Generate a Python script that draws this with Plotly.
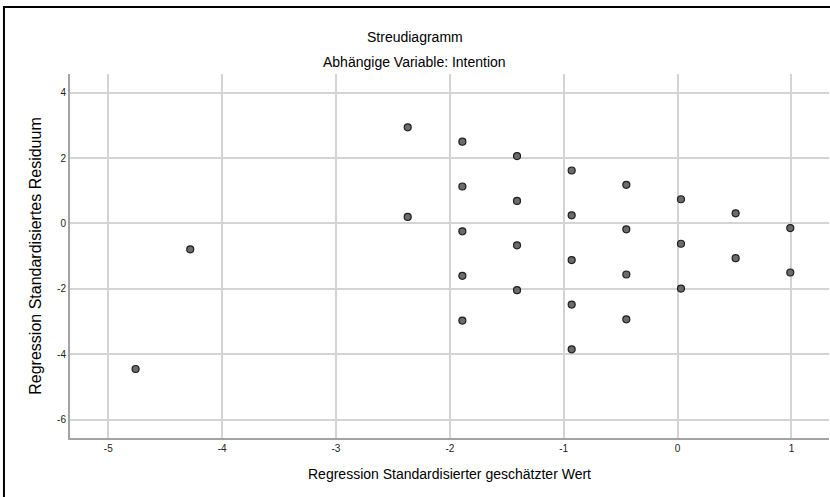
import plotly.graph_objects as go

# Data (standardized predicted value vs standardized residual)
pred_x = [-4.76, -4.28, -2.37, -2.37, -1.89, -1.89, -1.89, -1.89, -1.89,
          -1.41, -1.41, -1.41, -1.41, -0.93, -0.93, -0.93, -0.93, -0.93,
          -0.45, -0.45, -0.45, -0.45, 0.03, 0.03, 0.03, 0.51, 0.51, 0.99, 0.99]
resid_y = [-4.45, -0.79, 2.94, 0.20, 2.50, 1.13, -0.24, -1.60, -2.97,
           2.06, 0.69, -0.67, -2.04, 1.62, 0.25, -1.12, -2.48, -3.85,
           1.18, -0.18, -1.56, -2.93, 0.74, -0.62, -1.99, 0.31, -1.06, -0.14, -1.50]
x_ticks = [-5, -4, -3, -2, -1, 0, 1]
x_tick_labels = ["-5", "-4", "-3", "-2", "-1", "0", "1"]
y_ticks = [4, 2, 0, -2, -4, -6]
y_tick_labels = ["4", "2", "0", "-2", "-4", "-6"]

title_text = "Streudiagramm"
subtitle_text = "Abhängige Variable: Intention"
x_title = "Regression Standardisierter geschätzter Wert"
y_title = "Regression Standardisiertes Residuum"

FONT = "Arial, 'Liberation Sans', sans-serif"

fig = go.Figure()
fig.add_trace(go.Scatter(
    x=pred_x, y=resid_y, mode="markers",
    marker=dict(size=7, color="#6b6b6b", line=dict(color="#1e1e1e", width=1.2)),
    hoverinfo="x+y", showlegend=False,
))

fig.update_layout(
    width=830, height=497,
    margin=dict(l=70, r=1, t=74, b=59),
    paper_bgcolor="white", plot_bgcolor="white",
    font=dict(family=FONT, color="#000000"),
    xaxis=dict(
        range=[-5.336, 1.33], tickvals=x_ticks, ticktext=x_tick_labels, ticks="",
        showgrid=True, gridcolor="#d4d4d4", gridwidth=1.5,
        showline=True, linecolor="#a3a3a3", linewidth=2,
        zeroline=False, tickfont=dict(size=10, color="#222222"),
        title=dict(text=x_title, font=dict(size=14, color="#000000"), standoff=16),
    ),
    yaxis=dict(
        range=[-6.56, 4.57], tickvals=y_ticks, ticktext=y_tick_labels, ticks="",
        showgrid=True, gridcolor="#d4d4d4", gridwidth=1.5,
        showline=True, linecolor="#a3a3a3", linewidth=2,
        zeroline=False, tickfont=dict(size=10, color="#222222"),
        title=dict(text=y_title, font=dict(size=16, color="#000000"), standoff=11),
    ),
    annotations=[
        dict(text=title_text, xref="paper", yref="paper", x=0.4545, y=1.1016,
             xanchor="center", yanchor="middle", showarrow=False,
             font=dict(size=14, color="#000000")),
        dict(text=subtitle_text, xref="paper", yref="paper", x=0.4545, y=1.033,
             xanchor="center", yanchor="middle", showarrow=False,
             font=dict(size=14, color="#000000")),
    ],
    shapes=[
        dict(type="rect", xref="paper", yref="paper",
             x0=-0.087, x1=1.02, y0=-0.3, y1=1.184,
             line=dict(color="#000000", width=2), fillcolor="rgba(0,0,0,0)",
             layer="above"),
    ],
)

fig.write_html("out.html",
               config={"displayModeBar": False},
               post_script="document.body.style.margin='0';document.body.style.overflow='hidden';")
